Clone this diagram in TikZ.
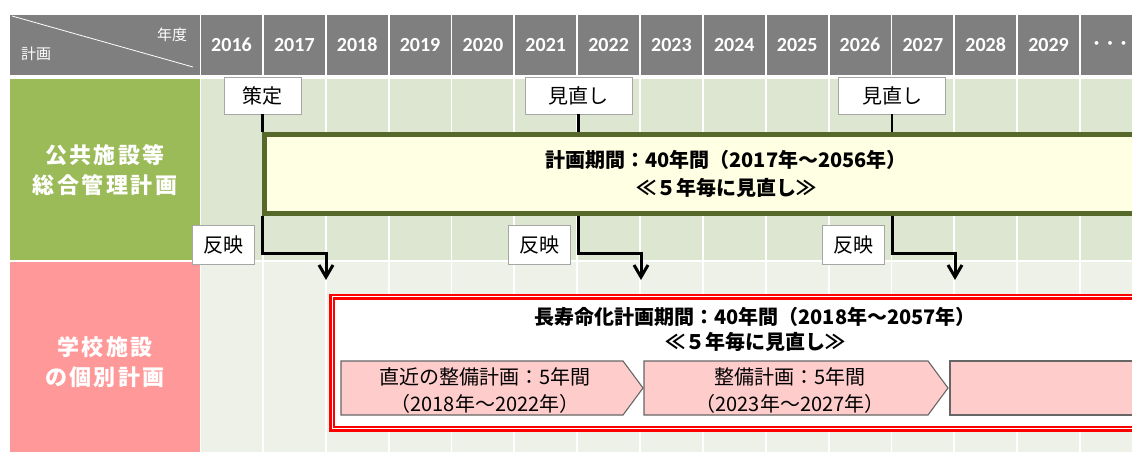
\documentclass[tikz,border=0pt]{standalone}
\usepackage{fontspec}
\setmainfont{Noto Sans CJK JP}
\newfontfamily\jpls[LetterSpace=11]{Noto Sans CJK JP}
\newfontfamily\yrfont{Carlito}
\usetikzlibrary{arrows.meta}
\definecolor{hdr}{HTML}{7F7F7F}
\definecolor{grn}{HTML}{9BBB59}
\definecolor{pnk}{HTML}{FF9999}
\definecolor{bgA}{HTML}{DDE6D1}
\definecolor{bgB}{HTML}{EEF1E8}
\definecolor{olive}{HTML}{56692B}
\definecolor{ylw}{HTML}{FFFFE4}
\definecolor{pent}{HTML}{FFCCCC}
\definecolor{pentb}{HTML}{666666}
\definecolor{boxb}{HTML}{A6A6A6}
\tikzset{
  yrs/.style={text=white, font=\yrfont\bfseries\fontsize{20}{24}\selectfont, inner sep=0},
  hs/.style={text=white, font=\fontsize{15}{18}\selectfont, inner sep=0},
  lab/.style={text=white, align=center, font=\jpls\bfseries\fontsize{22}{30}\selectfont, inner sep=0},
  tagbox/.style={draw=boxb, line width=0.8pt, fill=white, inner sep=0, font=\fontsize{20}{24}\selectfont, text=black},
  big/.style={align=center, inner sep=0, font=\bfseries\fontsize{20}{28}\selectfont},
  ptxt/.style={align=center, inner sep=0, font=\fontsize{20}{27}\selectfont},
  pentstyle/.style={fill=pent, draw=pentb, line width=1.1pt},
  thinline/.style={draw=black, line width=2.2pt},
  arr/.style={draw=black, line width=3pt},
  vhead/.style={draw=black, line width=3pt, line join=miter, miter limit=10},
}
\begin{document}
\begin{tikzpicture}[x=1pt,y=-1pt]
\useasboundingbox (0,0) rectangle (1132,452);
\clip (0,0) rectangle (1132,452);
\fill[white] (0,0) rectangle (1132,452);
% header left
\fill[hdr] (10,15) rectangle (200,75);
\draw[white, line width=0.8pt] (12,16) -- (193,67);
\node[hs] (nendo) at (172,35) {年度};
\node[hs] (keikaku) at (36,54) {計画};
% grid
\foreach \i in {0,...,14} {
  \fill[hdr] ({201+62.85*\i},15) rectangle ++(61,60);
  \fill[bgA] ({201+62.85*\i},79) rectangle ++(61,181);
  \fill[bgB] ({201+62.85*\i},262) rectangle ++(61,190);
}
\foreach \i in {0,...,13} {
  \pgfmathtruncatemacro\yy{2016+\i}
  \node[yrs] (y\i) at ({201+62.85*\i+30.5},45) {\yy};
}
\node[yrs, font=\bfseries\fontsize{13.5}{16}\selectfont] (dots) at (1110,45) {・・・};
% left labels
\fill[grn] (10,79) rectangle (200,260);
\fill[pnk] (10,262) rectangle (200,452);
\node[lab] (labA) at (105,170) {公共施設等\\総合管理計画};
\node[lab] (labB) at (105,362) {学校施設\\の個別計画};
% yellow box
\node[draw=olive, line width=5pt, fill=ylw, anchor=north west, minimum width=900pt, minimum height=79pt, inner sep=0] (ybox) at (262,132) {};
\node[big] (ytext) at (726,174) {計画期間：40年間（2017年～2056年）\\≪５年毎に見直し≫};
% tags
\node[tagbox, minimum width=77pt, minimum height=37pt] (sakutei) at (262.5,95.5) {策定};
\node[tagbox, minimum width=107pt, minimum height=37pt] (mn1) at (578.5,95.5) {見直し};
\node[tagbox, minimum width=107pt, minimum height=37pt] (mn2) at (892,95.5) {見直し};
\draw[thinline] (sakutei.south) -- (sakutei |- ybox.north);
\draw[thinline] (mn1.south) -- (mn1 |- ybox.north);
\draw[thinline] (mn2.south) -- (mn2 |- ybox.north);
\node[tagbox, minimum width=62pt, minimum height=39pt] (hanei1) at (223,244.5) {反映};
\node[tagbox, minimum width=62pt, minimum height=39pt] (hanei2) at (539,244.5) {反映};
\node[tagbox, minimum width=62pt, minimum height=39pt] (hanei3) at (853,244.5) {反映};
% red box
\node[draw=red, double=white, double distance=1pt, line width=2.5pt, fill=white, anchor=north west, minimum width=830pt, minimum height=132pt, inner sep=0] (rbox) at (331,295.5) {};
\node[big, font=\bfseries\fontsize{20}{25}\selectfont] (rtext) at (755,329.5) {長寿命化計画期間：40年間（2018年～2057年）\\≪５年毎に見直し≫};
% arrows
\coordinate (k1) at (326,253); \coordinate (t1) at (326,277);
\coordinate (k2) at (641,253); \coordinate (t2) at (641,277);
\coordinate (k3) at (955,253); \coordinate (t3) at (955,277);
\draw[arr] (sakutei |- ybox.south) |- (k1) -- (t1);
\draw[arr] (mn1 |- ybox.south) |- (k2) -- (t2);
\draw[arr] (mn2 |- ybox.south) |- (k3) -- (t3);
\foreach \t in {t1,t2,t3} {
  \draw[vhead] ([xshift=-7pt,yshift=12pt]\t) -- (\t) -- ([xshift=7pt,yshift=12pt]\t);
}
% pentagons
\draw[pentstyle] (341,361) -- (623,361) -- (643,388) -- (623,415) -- (341,415) -- cycle;
\draw[pentstyle] (644,361) -- (928,361) -- (948,388) -- (928,415) -- (644,415) -- cycle;
\draw[pentstyle] (1150,361) -- (950,361) -- (950,415) -- (1150,415);
\node[ptxt] (p1) at (485,390.5) {直近の整備計画：5年間\\（2018年～2022年）};
\node[ptxt] (p2) at (790,390.5) {整備計画：5年間\\（2023年～2027年）};
\end{tikzpicture}
\end{document}
